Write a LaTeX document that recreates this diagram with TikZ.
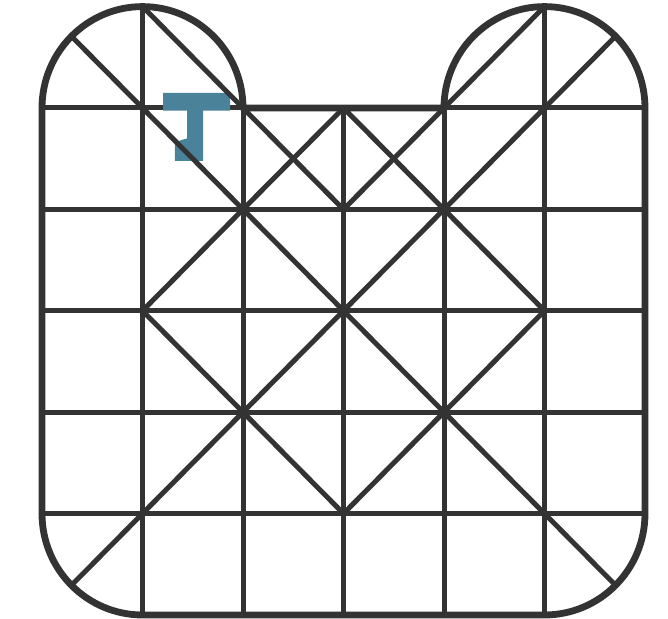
\documentclass[tikz,border=0pt]{standalone}
\usepackage{tikz}
\usepackage{xcolor}
\definecolor{gridgray}{HTML}{333333}
\definecolor{markblue}{HTML}{4A8299}

\begin{document}
\begin{tikzpicture}[x=50.25pt, y=50.7pt, line join=round,
    gridline/.style={gridgray, line width=2.5pt},
    rimline/.style={gridgray, line width=3.4pt}]
\useasboundingbox (-0.418,-0.039) rectangle (6.229,6.065);
% straight grid
\foreach \gx in {1,...,5}
    \draw[gridline] (\gx,0) -- (\gx,5);
\draw[gridline] (1,5) -- (1,6) (5,5) -- (5,6);
\foreach \gy in {1,...,5}
    \draw[gridline] (0,\gy) -- (6,\gy);
% blue mark
\fill[markblue] (1.204,5.148) -- (1.871,5.148) -- (1.871,4.975) -- (1.602,4.975)
    -- (1.602,4.479) -- (1.323,4.479) -- (1.323,4.665) -- (1.443,4.700)
    -- (1.443,4.975) -- (1.204,4.975) -- cycle;
% diagonals
\draw[gridline] (0.293,5.707) -- (5.707,0.293);
\draw[gridline] (5.707,5.707) -- (0.293,0.293);
\draw[gridline] (1,6) -- (2,5) -- (3,4) -- (4,5) -- (5,6);
\draw[gridline] (2,4) -- (3,5) -- (4,4);
\draw[gridline] (2,4) -- (1,3) -- (2,2) -- (3,1) -- (4,2) -- (5,3) -- (4,4);
% outline with ears
\draw[rimline] (0,5) arc[start angle=180, end angle=0, radius=1] -- (4,5)
    arc[start angle=180, end angle=0, radius=1] -- (6,1)
    arc[start angle=0, end angle=-90, radius=1] -- (1,0)
    arc[start angle=270, end angle=180, radius=1] -- cycle;
\end{tikzpicture}
\end{document}
